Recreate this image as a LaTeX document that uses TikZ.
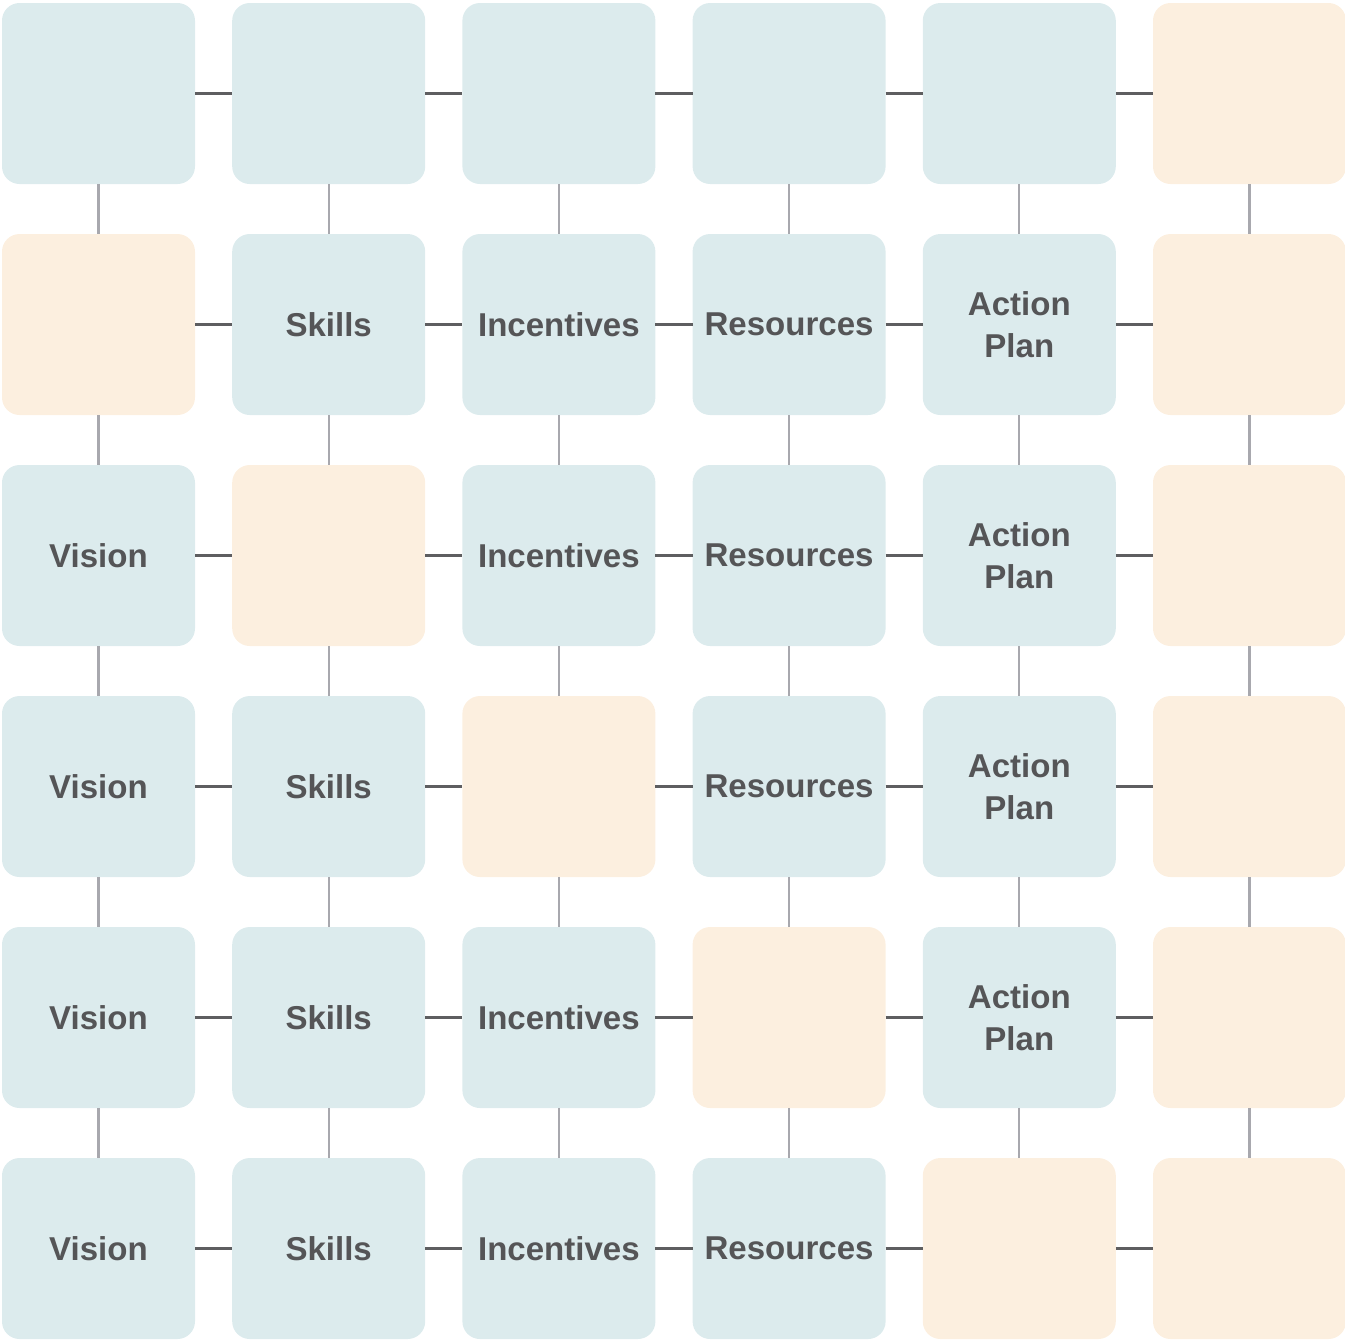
\documentclass[tikz,border=0pt]{standalone}
\usepackage{fontspec}
\setmainfont{Liberation Sans}
\usepackage{tikz}
\usetikzlibrary{positioning}
\definecolor{tealbg}{HTML}{DCEBED}
\definecolor{peachbg}{HTML}{FCEFDF}
\definecolor{txtgray}{HTML}{555557}
\definecolor{hgray}{HTML}{5E5E60}
\definecolor{vgray}{HTML}{A8A8AE}
\tikzset{
  tbx/.style ={rectangle, rounded corners=5pt, fill=tealbg, minimum width=1.93cm, minimum height=1.81cm,
               inner sep=0pt, outer sep=0pt, align=center, text=txtgray, font=\fontsize{9.4}{12}\selectfont\bfseries},
  obx/.style ={tbx, fill=peachbg},
  hln/.style ={draw=hgray, line width=0.65pt},
  vln/.style ={draw=vgray, line width=0.65pt},
}
\begin{document}
\begin{tikzpicture}[node distance=5mm and 3.72mm]
  \useasboundingbox (0,0) rectangle (13.45,-13.41);
  % row a
  \node[tbx] (a1) at (0.985,-0.935) {};
  \node[tbx, right=of a1] (a2) {};
  \node[tbx, right=of a2] (a3) {};
  \node[tbx, right=of a3] (a4) {};
  \node[tbx, right=of a4] (a5) {};
  \node[obx, right=of a5] (a6) {};
  % row b
  \node[obx, below=of a1] (b1) {};
  \node[tbx, right=of b1] (b2) {Skills};
  \node[tbx, right=of b2] (b3) {Incentives};
  \node[tbx, right=of b3] (b4) {Resources};
  \node[tbx, right=of b4] (b5) {Action\\Plan};
  \node[obx, right=of b5] (b6) {};
  % row c
  \node[tbx, below=of b1] (c1) {Vision};
  \node[obx, right=of c1] (c2) {};
  \node[tbx, right=of c2] (c3) {Incentives};
  \node[tbx, right=of c3] (c4) {Resources};
  \node[tbx, right=of c4] (c5) {Action\\Plan};
  \node[obx, right=of c5] (c6) {};
  % row d
  \node[tbx, below=of c1] (d1) {Vision};
  \node[tbx, right=of d1] (d2) {Skills};
  \node[obx, right=of d2] (d3) {};
  \node[tbx, right=of d3] (d4) {Resources};
  \node[tbx, right=of d4] (d5) {Action\\Plan};
  \node[obx, right=of d5] (d6) {};
  % row e
  \node[tbx, below=of d1] (e1) {Vision};
  \node[tbx, right=of e1] (e2) {Skills};
  \node[tbx, right=of e2] (e3) {Incentives};
  \node[obx, right=of e3] (e4) {};
  \node[tbx, right=of e4] (e5) {Action\\Plan};
  \node[obx, right=of e5] (e6) {};
  % row f
  \node[tbx, below=of e1] (f1) {Vision};
  \node[tbx, right=of f1] (f2) {Skills};
  \node[tbx, right=of f2] (f3) {Incentives};
  \node[tbx, right=of f3] (f4) {Resources};
  \node[obx, right=of f4] (f5) {};
  \node[obx, right=of f5] (f6) {};
  % horizontal links
  \draw[hln] (a1)--(a2) (a2)--(a3) (a3)--(a4) (a4)--(a5) (a5)--(a6);
  \draw[hln] (b1)--(b2) (b2)--(b3) (b3)--(b4) (b4)--(b5) (b5)--(b6);
  \draw[hln] (c1)--(c2) (c2)--(c3) (c3)--(c4) (c4)--(c5) (c5)--(c6);
  \draw[hln] (d1)--(d2) (d2)--(d3) (d3)--(d4) (d4)--(d5) (d5)--(d6);
  \draw[hln] (e1)--(e2) (e2)--(e3) (e3)--(e4) (e4)--(e5) (e5)--(e6);
  \draw[hln] (f1)--(f2) (f2)--(f3) (f3)--(f4) (f4)--(f5) (f5)--(f6);
  % vertical links
  \draw[vln] (a1)--(b1) (b1)--(c1) (c1)--(d1) (d1)--(e1) (e1)--(f1);
  \draw[vln] (a2)--(b2) (b2)--(c2) (c2)--(d2) (d2)--(e2) (e2)--(f2);
  \draw[vln] (a3)--(b3) (b3)--(c3) (c3)--(d3) (d3)--(e3) (e3)--(f3);
  \draw[vln] (a4)--(b4) (b4)--(c4) (c4)--(d4) (d4)--(e4) (e4)--(f4);
  \draw[vln] (a5)--(b5) (b5)--(c5) (c5)--(d5) (d5)--(e5) (e5)--(f5);
  \draw[vln] (a6)--(b6) (b6)--(c6) (c6)--(d6) (d6)--(e6) (e6)--(f6);
\end{tikzpicture}
\end{document}
